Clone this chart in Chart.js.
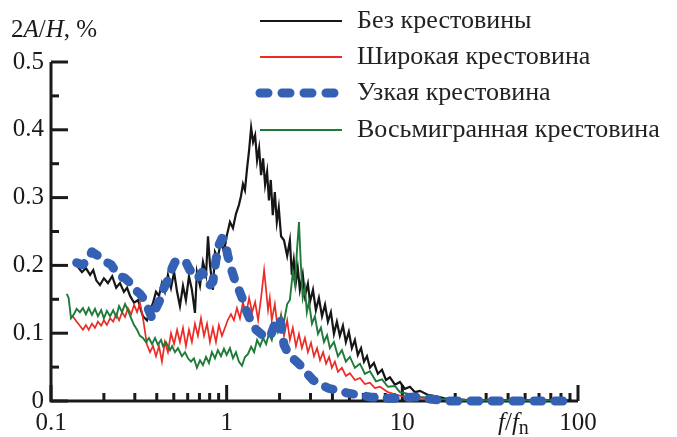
<!DOCTYPE html>
<html>
<head>
<meta charset="utf-8">
<script src="https://cdn.jsdelivr.net/npm/chart.js@4/dist/chart.umd.min.js"></script>
<style>
  html, body { margin: 0; padding: 0; background: #fff; }
  #wrap { width: 677px; height: 437px; position: relative; }
</style>
</head>
<body>
<div id="wrap"><canvas id="chart"></canvas></div>
<script>
// Подписи осей и легенды
const seriesNames = ["Без крестовины", "Широкая крестовина", "Узкая крестовина", "Восьмигранная крестовина"];
const yTicks = [0, 0.1, 0.2, 0.3, 0.4, 0.5];
const yTickLabels = ["0", "0.1", "0.2", "0.3", "0.4", "0.5"];
const yMinorTicks = [0.05, 0.15, 0.25, 0.35, 0.45];
const xTicks = [0.1, 1, 10, 100];
const xTickLabels = ["0.1", "1", "10", "100"];
const xMinorTicks = [0.2, 0.3, 0.4, 0.5, 0.6, 0.7, 0.8, 0.9, 2, 3, 4, 5, 6, 7, 8, 9, 20, 30, 40, 50, 60, 70, 80, 90];

// [f/fn, 2A/H %]
const noCross = [
  [0.142, 0.198], [0.150, 0.190], [0.158, 0.196], [0.167, 0.186], [0.174, 0.193], [0.181, 0.178],
  [0.190, 0.171], [0.200, 0.181], [0.211, 0.174], [0.223, 0.184], [0.235, 0.167], [0.247, 0.174],
  [0.260, 0.161], [0.271, 0.167], [0.282, 0.155], [0.297, 0.145], [0.313, 0.149], [0.325, 0.134],
  [0.334, 0.125], [0.352, 0.119], [0.366, 0.133], [0.381, 0.145], [0.396, 0.161], [0.412, 0.155],
  [0.428, 0.174], [0.445, 0.161], [0.463, 0.186], [0.482, 0.167], [0.502, 0.190], [0.522, 0.161],
  [0.542, 0.140], [0.564, 0.170], [0.586, 0.149], [0.610, 0.184], [0.634, 0.164], [0.660, 0.130],
  [0.677, 0.190], [0.705, 0.170], [0.733, 0.205], [0.763, 0.186], [0.783, 0.243], [0.803, 0.202],
  [0.835, 0.164], [0.858, 0.220], [0.891, 0.211], [0.928, 0.237], [0.965, 0.220], [1.000, 0.243],
  [1.044, 0.264], [1.086, 0.255], [1.130, 0.276], [1.174, 0.289], [1.206, 0.302], [1.238, 0.320],
  [1.271, 0.311], [1.304, 0.341], [1.342, 0.370], [1.378, 0.403], [1.414, 0.382], [1.452, 0.392],
  [1.490, 0.355], [1.530, 0.373], [1.570, 0.333], [1.612, 0.358], [1.655, 0.319], [1.699, 0.338],
  [1.740, 0.296], [1.783, 0.326], [1.830, 0.274], [1.880, 0.308], [1.930, 0.264], [1.980, 0.285],
  [2.040, 0.243], [2.120, 0.237], [2.210, 0.214], [2.290, 0.237], [2.350, 0.186], [2.410, 0.208],
  [2.480, 0.176], [2.540, 0.196], [2.610, 0.164], [2.710, 0.187], [2.790, 0.155], [2.900, 0.173],
  [2.980, 0.146], [3.100, 0.164], [3.220, 0.134], [3.350, 0.152], [3.490, 0.125], [3.630, 0.142],
  [3.770, 0.117], [3.920, 0.131], [4.080, 0.099], [4.240, 0.117], [4.410, 0.096], [4.590, 0.111],
  [4.770, 0.087], [4.960, 0.102], [5.160, 0.078], [5.370, 0.090], [5.580, 0.068], [5.820, 0.078],
  [6.050, 0.058], [6.290, 0.066], [6.540, 0.049], [6.890, 0.056], [7.260, 0.040], [7.660, 0.046],
  [8.070, 0.031], [8.500, 0.035], [9.080, 0.024], [9.690, 0.028], [10.35, 0.018], [11.05, 0.021],
  [11.80, 0.013], [12.60, 0.015], [14.00, 0.009], [15.50, 0.007], [17.40, 0.004], [19.90, 0.003],
  [24.20, 0.001], [35.80, 0.001], [60.40, 0.001], [91.90, 0.001]
];

const wideCross = [
  [0.133, 0.125], [0.140, 0.117], [0.146, 0.111], [0.152, 0.105], [0.158, 0.112], [0.164, 0.105],
  [0.171, 0.114], [0.178, 0.108], [0.185, 0.117], [0.193, 0.111], [0.200, 0.119], [0.208, 0.112],
  [0.217, 0.122], [0.226, 0.117], [0.235, 0.128], [0.244, 0.119], [0.254, 0.131], [0.264, 0.124],
  [0.274, 0.137], [0.286, 0.128], [0.297, 0.142], [0.309, 0.131], [0.321, 0.145], [0.334, 0.122],
  [0.343, 0.102], [0.352, 0.083], [0.366, 0.072], [0.381, 0.081], [0.396, 0.066], [0.412, 0.081],
  [0.428, 0.058], [0.445, 0.087], [0.463, 0.072], [0.482, 0.100], [0.502, 0.084], [0.522, 0.105],
  [0.542, 0.087], [0.564, 0.108], [0.586, 0.081], [0.610, 0.105], [0.634, 0.087], [0.660, 0.114],
  [0.686, 0.096], [0.714, 0.122], [0.743, 0.096], [0.773, 0.114], [0.803, 0.087], [0.835, 0.108],
  [0.869, 0.087], [0.903, 0.112], [0.940, 0.096], [0.978, 0.108], [1.013, 0.119], [1.058, 0.128],
  [1.100, 0.119], [1.144, 0.137], [1.190, 0.122], [1.238, 0.146], [1.288, 0.127], [1.342, 0.152],
  [1.396, 0.131], [1.452, 0.146], [1.510, 0.119], [1.570, 0.152], [1.634, 0.193], [1.677, 0.164],
  [1.720, 0.134], [1.760, 0.152], [1.806, 0.119], [1.880, 0.143], [1.955, 0.105], [2.040, 0.128],
  [2.120, 0.096], [2.210, 0.119], [2.290, 0.090], [2.380, 0.108], [2.480, 0.081], [2.580, 0.099],
  [2.680, 0.078], [2.790, 0.093], [2.900, 0.072], [3.020, 0.086], [3.140, 0.066], [3.270, 0.078],
  [3.400, 0.060], [3.540, 0.072], [3.680, 0.055], [3.830, 0.065], [3.970, 0.049], [4.130, 0.058],
  [4.300, 0.043], [4.530, 0.049], [4.770, 0.037], [5.030, 0.041], [5.370, 0.031], [5.740, 0.034],
  [6.120, 0.025], [6.540, 0.027], [6.980, 0.019], [7.460, 0.021], [8.280, 0.013], [9.080, 0.010],
  [10.35, 0.006], [12.60, 0.003], [16.30, 0.001]
];

const narrowCross = [
  [0.140, 0.204], [0.150, 0.201], [0.160, 0.205], [0.171, 0.220], [0.183, 0.215], [0.193, 0.211],
  [0.206, 0.205], [0.220, 0.201], [0.235, 0.190], [0.247, 0.184], [0.264, 0.181], [0.282, 0.174],
  [0.301, 0.164], [0.321, 0.158], [0.334, 0.152], [0.356, 0.137], [0.376, 0.122], [0.396, 0.137],
  [0.417, 0.149], [0.434, 0.164], [0.463, 0.178], [0.489, 0.196], [0.508, 0.205], [0.549, 0.208],
  [0.586, 0.205], [0.618, 0.193], [0.651, 0.190], [0.686, 0.181], [0.724, 0.190], [0.763, 0.181],
  [0.803, 0.171], [0.835, 0.176], [0.869, 0.208], [0.903, 0.230], [0.940, 0.240], [0.978, 0.237],
  [1.013, 0.215], [1.058, 0.196], [1.115, 0.178], [1.174, 0.164], [1.238, 0.149], [1.304, 0.131],
  [1.378, 0.117], [1.472, 0.105], [1.570, 0.099], [1.677, 0.093], [1.783, 0.097], [1.905, 0.117],
  [2.010, 0.122], [2.120, 0.083], [2.260, 0.068], [2.450, 0.060], [2.640, 0.052], [2.860, 0.041],
  [3.100, 0.031], [3.400, 0.025], [3.770, 0.019], [4.240, 0.016], [4.830, 0.012], [5.580, 0.009],
  [6.540, 0.006], [7.970, 0.004], [9.690, 0.004], [11.80, 0.006], [14.30, 0.003], [18.60, 0.000],
  [27.60, 0.000], [40.80, 0.000], [60.40, 0.000], [87.10, 0.000]
];

const octCross = [
  [0.123, 0.158], [0.126, 0.152], [0.130, 0.122], [0.135, 0.128], [0.140, 0.136], [0.146, 0.131],
  [0.152, 0.137], [0.158, 0.128], [0.164, 0.137], [0.171, 0.127], [0.178, 0.136], [0.185, 0.125],
  [0.193, 0.134], [0.200, 0.122], [0.208, 0.133], [0.217, 0.125], [0.226, 0.134], [0.235, 0.124],
  [0.244, 0.140], [0.254, 0.131], [0.264, 0.143], [0.274, 0.134], [0.286, 0.122], [0.297, 0.112],
  [0.309, 0.105], [0.321, 0.096], [0.334, 0.093], [0.347, 0.087], [0.361, 0.093], [0.376, 0.084],
  [0.391, 0.093], [0.406, 0.083], [0.423, 0.090], [0.434, 0.081], [0.451, 0.087], [0.476, 0.075],
  [0.489, 0.081], [0.508, 0.072], [0.528, 0.078], [0.556, 0.066], [0.579, 0.072], [0.602, 0.063],
  [0.626, 0.058], [0.651, 0.063], [0.677, 0.049], [0.705, 0.060], [0.733, 0.053], [0.763, 0.065],
  [0.793, 0.056], [0.824, 0.072], [0.858, 0.063], [0.891, 0.075], [0.928, 0.066], [0.965, 0.077],
  [1.000, 0.068], [1.044, 0.078], [1.086, 0.063], [1.130, 0.072], [1.174, 0.058], [1.222, 0.052],
  [1.271, 0.065], [1.321, 0.069], [1.378, 0.080], [1.433, 0.072], [1.490, 0.090], [1.550, 0.081],
  [1.612, 0.093], [1.677, 0.084], [1.740, 0.099], [1.806, 0.090], [1.880, 0.111], [1.955, 0.102],
  [2.040, 0.125], [2.120, 0.117], [2.210, 0.143], [2.290, 0.149], [2.380, 0.190], [2.450, 0.171],
  [2.510, 0.220], [2.580, 0.264], [2.640, 0.205], [2.710, 0.152], [2.790, 0.167], [2.860, 0.131],
  [2.940, 0.146], [3.060, 0.114], [3.180, 0.125], [3.310, 0.099], [3.440, 0.108], [3.580, 0.087],
  [3.730, 0.097], [3.870, 0.078], [4.080, 0.087], [4.300, 0.066], [4.530, 0.075], [4.770, 0.058],
  [5.030, 0.065], [5.370, 0.049], [5.740, 0.055], [6.120, 0.040], [6.540, 0.044], [7.080, 0.029],
  [7.660, 0.032], [8.280, 0.021], [9.080, 0.022], [9.690, 0.013], [11.05, 0.010], [12.60, 0.006],
  [16.30, 0.003], [24.20, 0.001], [78.50, 0.001]
];

const colors = ["#161616", "#ec2b25", "#3461b3", "#1f7a3a"];
const serif = "'Liberation Serif', 'Times New Roman', serif";

const toXY = (arr) => arr.map(([x, y]) => ({ x, y }));

// рисует строку из кусочков с разными шрифтами
function richText(ctx, parts, x, y) {
  let cx = x;
  parts.forEach(([txt, font, dy]) => {
    ctx.font = font;
    ctx.fillText(txt, cx, y + (dy || 0));
    cx += ctx.measureText(txt).width;
  });
}

const axesPlugin = {
  id: "axesPlugin",
  beforeDatasetsDraw(chart) {
    const { ctx, chartArea: a, scales } = chart;
    const xs = scales.x, ys = scales.y;
    ctx.save();
    ctx.strokeStyle = "#1a1a1a";
    ctx.fillStyle = "#1a1a1a";
    ctx.lineWidth = 3;
    ctx.lineCap = "butt";
    // оси
    ctx.beginPath();
    ctx.moveTo(a.left, a.top);
    ctx.lineTo(a.left, a.bottom);
    ctx.lineTo(a.right, a.bottom);
    ctx.stroke();
    // деления Y
    yTicks.forEach((v) => {
      const y = ys.getPixelForValue(v);
      ctx.beginPath(); ctx.moveTo(a.left, y); ctx.lineTo(a.left + 17, y); ctx.stroke();
    });
    yMinorTicks.forEach((v) => {
      const y = ys.getPixelForValue(v);
      ctx.beginPath(); ctx.moveTo(a.left, y); ctx.lineTo(a.left + 8, y); ctx.stroke();
    });
    // деления X
    xTicks.forEach((v) => {
      const x = xs.getPixelForValue(v);
      ctx.beginPath(); ctx.moveTo(x, a.bottom); ctx.lineTo(x, a.bottom - 16); ctx.stroke();
    });
    xMinorTicks.forEach((v) => {
      const x = xs.getPixelForValue(v);
      ctx.beginPath(); ctx.moveTo(x, a.bottom); ctx.lineTo(x, a.bottom - 8); ctx.stroke();
    });
    // подписи
    ctx.font = "25px " + serif;
    ctx.textBaseline = "middle";
    ctx.textAlign = "right";
    yTicks.forEach((v, i) => ctx.fillText(yTickLabels[i], a.left - 7, ys.getPixelForValue(v)));
    ctx.textAlign = "center";
    xTicks.forEach((v, i) => ctx.fillText(xTickLabels[i], xs.getPixelForValue(v), a.bottom + 22));
    ctx.textAlign = "left";
    ctx.textBaseline = "alphabetic";
    const it = "italic 25px " + serif, rm = "25px " + serif;
    richText(ctx, [["2", rm], ["A", it], ["/", rm], ["H", it], [", %", rm]], 11, 37);
    richText(ctx, [["f", it], ["/", rm], ["f", it], ["n", "20px " + serif, 4]], 498, 430);
    ctx.restore();
  },
  afterDraw(chart) {
    const { ctx } = chart;
    const rows = [21, 57, 93, 130];
    ctx.save();
    seriesNames.forEach((name, i) => {
      ctx.strokeStyle = colors[i];
      ctx.beginPath();
      if (i === 2) {
        ctx.lineWidth = 9;
        ctx.lineCap = "round";
        ctx.setLineDash([8, 14]);
        ctx.moveTo(260, rows[i]);
      } else {
        ctx.lineWidth = 2;
        ctx.lineCap = "butt";
        ctx.setLineDash([]);
        ctx.moveTo(260, rows[i]);
      }
      ctx.lineTo(342, rows[i]);
      ctx.stroke();
      ctx.fillStyle = "#222";
      ctx.font = "26px " + serif;
      ctx.textBaseline = "middle";
      ctx.fillText(name, 357, rows[i]);
    });
    ctx.restore();
  }
};

new Chart(document.getElementById("chart"), {
  type: "line",
  data: {
    datasets: [
      { label: seriesNames[0], data: toXY(noCross), borderColor: colors[0], borderWidth: 2.2, order: 4 },
      { label: seriesNames[1], data: toXY(wideCross), borderColor: colors[1], borderWidth: 1.7, order: 3 },
      { label: seriesNames[2], data: toXY(narrowCross), borderColor: colors[2], borderWidth: 9,
        borderDash: [8, 13], borderCapStyle: "round", borderJoinStyle: "round", order: 1 },
      { label: seriesNames[3], data: toXY(octCross), borderColor: colors[3], borderWidth: 1.9, order: 2 },
    ],
  },
  options: {
    responsive: true,
    maintainAspectRatio: false,
    animation: false,
    layout: { padding: { left: 51, right: 99, top: 62, bottom: 36 } },
    elements: { point: { radius: 0 }, line: { tension: 0 } },
    datasets: { line: { clip: false } },
    plugins: { legend: { display: false }, tooltip: { enabled: false } },
    scales: {
      x: { type: "logarithmic", min: 0.1, max: 100, display: false },
      y: { type: "linear", min: 0, max: 0.5, display: false },
    },
  },
  plugins: [axesPlugin],
});
</script>
</body>
</html>
